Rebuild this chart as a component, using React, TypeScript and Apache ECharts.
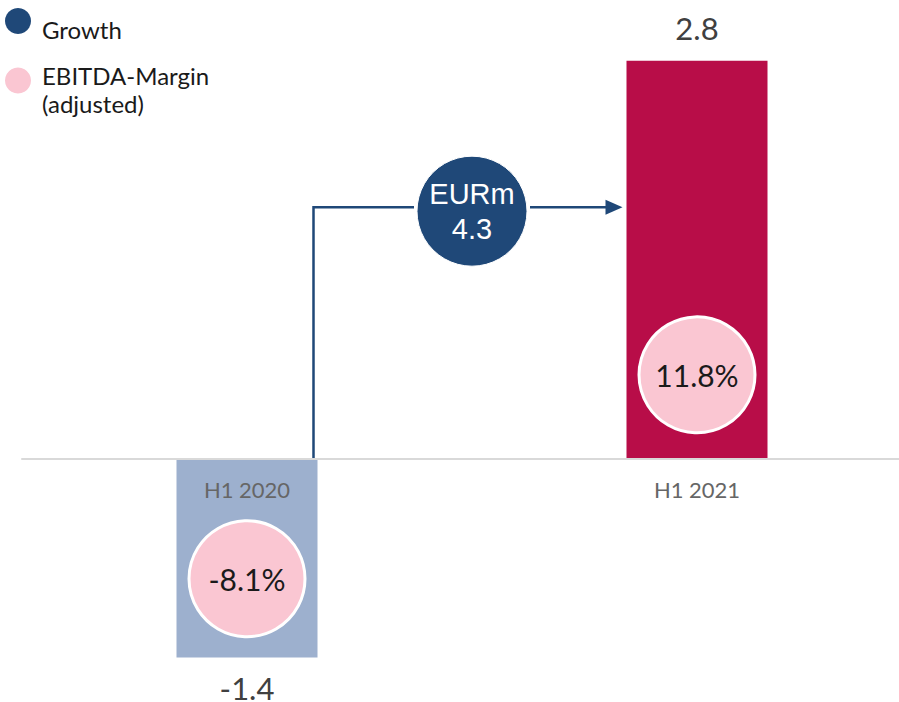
import React, { useEffect, useRef } from "react";
import * as echarts from "echarts";

const categories = ["H1 2020", "H1 2021"];
const ebitdaValues = [-1.4, 2.8];
const marginValues = [-8.1, 11.8];
const growthValue = 4.3;
const growthUnit = "EURm";
const legendNames = ["Growth", "EBITDA-Margin\n(adjusted)"];

const BAR_COLORS = ["#9DB0CE", "#B80D48"];
const BLUE = "#1F4878";
const PINK = "#FAC6D2";
// vertical placement (in axis units) of the margin bubbles inside each bar
const bubbleY = [-0.845, 0.59];
const arrowY = 1.77;
const Y_MIN = -1.6;
const Y_MAX = 3.2;
const GRID_TOP = 4;
const GRID_H = 682;

export default function App() {
  const ref = useRef<HTMLDivElement>(null);
  useEffect(() => {
    if (!ref.current) return;
    const chart = echarts.init(ref.current, null, { renderer: "svg" });
    const zeroOffset = (GRID_H * -Y_MIN) / (Y_MAX - Y_MIN);
    chart.setOption({
      animation: false,
      grid: { left: 22, top: GRID_TOP, width: 900, height: GRID_H, outerBoundsMode: "none", containLabel: false },
      xAxis: {
        type: "category",
        data: categories,
        offset: -zeroOffset,
        z: 10,
        axisLine: { show: true, onZero: false, lineStyle: { color: "#d9d9d9", width: 2 } },
        axisTick: { show: false },
        axisLabel: { color: "#666666", fontSize: 22, fontFamily: "Lato", margin: 20 },
        splitLine: { show: false },
      },
      yAxis: { type: "value", min: Y_MIN, max: Y_MAX, show: false, splitLine: { show: false } },
      series: [
        {
          type: "bar",
          name: legendNames[0],
          barWidth: 141,
          data: ebitdaValues.map((v, i) => ({
            value: v,
            itemStyle: { color: BAR_COLORS[i] },
            label: { position: v < 0 ? "bottom" : "top", distance: v < 0 ? 15 : 17 },
          })),
          label: {
            show: true,
            color: "#404040",
            fontSize: 31,
            fontFamily: "Lato",
            formatter: (p: any) => String(p.value),
          },
          z: 2,
        },
        {
          type: "scatter",
          name: legendNames[1],
          symbol: "circle",
          symbolSize: 116,
          itemStyle: { color: PINK, borderColor: "#ffffff", borderWidth: 3, opacity: 1 },
          data: marginValues.map((m, i) => [i, bubbleY[i], m]),
          label: {
            show: true,
            position: "inside",
            color: "#1a1a1a",
            fontSize: 30,
            fontFamily: "Lato",
            formatter: (p: any) => p.value[2].toFixed(1) + "%",
          },
          z: 5,
        },
      ],
    });

    const p0 = chart.convertToPixel({ xAxisIndex: 0, yAxisIndex: 0 }, [0, 0]) as number[];
    const p1 = chart.convertToPixel({ xAxisIndex: 0, yAxisIndex: 0 }, [1, arrowY]) as number[];
    const pa = chart.convertToPixel({ xAxisIndex: 0, yAxisIndex: 0 }, [0, arrowY]) as number[];
    const half = 141 / 2;
    const xStart = p0[0] + half - 4;
    const baseY = p0[1];
    const y = pa[1];
    const tip = p1[0] - half - 4;
    const cx = (p0[0] + p1[0]) / 2;
    const cy = y + 4;
    const r = 55;
    const lineStyle = { stroke: BLUE, lineWidth: 2.5, fill: null };

    chart.setOption({
      graphic: [
        { type: "polyline", shape: { points: [[xStart, baseY], [xStart, y], [cx - r - 3, y]] }, style: lineStyle, z: 10 },
        { type: "line", shape: { x1: cx + r + 3, y1: y, x2: tip - 14, y2: y }, style: lineStyle, z: 10 },
        { type: "polygon", shape: { points: [[tip - 17, y - 7.5], [tip, y], [tip - 17, y + 7.5]] }, style: { fill: BLUE }, z: 10 },
        { type: "circle", shape: { cx, cy, r }, style: { fill: BLUE, stroke: "#ffffff", lineWidth: 1 }, z: 11 },
        {
          type: "text",
          x: cx,
          y: cy,
          style: {
            text: growthUnit + "\n" + growthValue.toFixed(1),
            fill: "#ffffff",
            font: "29px 'Liberation Sans', Arial, sans-serif",
            lineHeight: 35,
            align: "center",
            verticalAlign: "middle",
          },
          z: 12,
        },
        { type: "circle", shape: { cx: 18, cy: 21, r: 13 }, style: { fill: BLUE }, z: 10 },
        {
          type: "text",
          x: 42,
          y: 29,
          style: { text: legendNames[0], fill: "#1a1a1a", font: "24px Lato", verticalAlign: "middle" },
          z: 10,
        },
        { type: "circle", shape: { cx: 18, cy: 80.5, r: 13 }, style: { fill: PINK }, z: 10 },
        {
          type: "text",
          x: 42,
          y: 89,
          style: { text: legendNames[1], fill: "#1a1a1a", font: "24px Lato", lineHeight: 28, verticalAlign: "middle" },
          z: 10,
        },
      ],
    });

    return () => chart.dispose();
  }, []);
  return <div ref={ref} style={{ position: "absolute", left: 0, top: 0, width: 899, height: 702 }} />;
}
